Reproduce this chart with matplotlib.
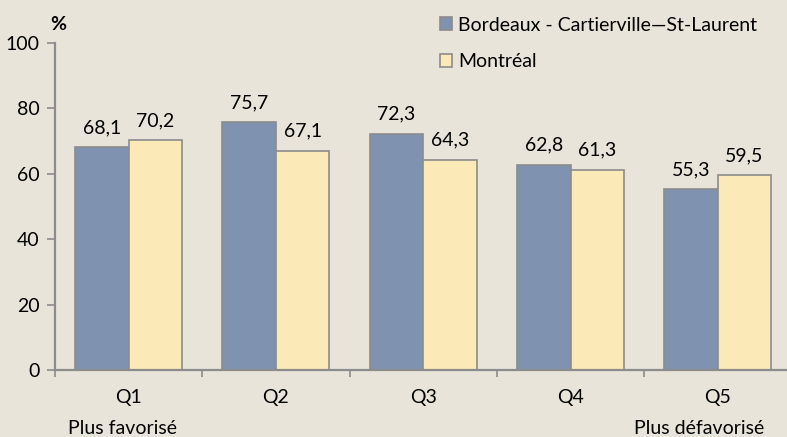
import matplotlib.pyplot as plt
import numpy as np

plt.rcParams['font.family'] = ['Lato', 'DejaVu Sans']

categories = ["Q1", "Q2", "Q3", "Q4", "Q5"]
bordeaux = [68.1, 75.7, 72.3, 62.8, 55.3]
montreal = [70.2, 67.1, 64.3, 61.3, 59.5]
series_names = ["Bordeaux - Cartierville\u2014St-Laurent", "Montr\u00e9al"]

BG = '#e8e4da'
BLUE = '#7f93b0'
YELLOW = '#fbe9b8'
EDGE = '#8c8c8c'
FS = 14

fig = plt.figure(figsize=(7.87, 4.37), dpi=100, facecolor=BG)
# axes extends slightly past the right edge, like the original
ax = fig.add_axes([55 / 787, 67 / 437, 736.5 / 787, 327 / 437], facecolor=BG)

x = np.arange(len(categories))
w = 0.363
b1 = ax.bar(x - w / 2, bordeaux, w, color=BLUE, edgecolor=EDGE, linewidth=1.2, label=series_names[0])
b2 = ax.bar(x + w / 2, montreal, w, color=YELLOW, edgecolor=EDGE, linewidth=1.2, label=series_names[1])

for bars, vals in [(b1, bordeaux), (b2, montreal)]:
    for rect, v in zip(bars, vals):
        ax.annotate(f"{v:.1f}".replace('.', ','),
                    (rect.get_x() + rect.get_width() / 2, v),
                    xytext=(0, 8), textcoords='offset points',
                    ha='center', va='bottom', fontsize=FS)

ax.set_xlim(-0.5, 4.5)
ax.set_ylim(0, 100)
ax.set_yticks([0, 20, 40, 60, 80, 100])
ax.set_xticks(np.arange(-0.5, 5, 1.0))
ax.set_xticklabels([])
ax.set_xticks(x, minor=True)
ax.set_xticklabels(categories, minor=True, fontsize=FS)
ax.tick_params(axis='x', which='minor', length=0, pad=14)
ax.tick_params(axis='x', which='major', length=5, width=1.2, color=EDGE)
ax.tick_params(axis='y', length=6, width=1.2, color=EDGE, labelsize=FS, pad=5)

for s in ['top', 'right']:
    ax.spines[s].set_visible(False)
for s in ['left', 'bottom']:
    ax.spines[s].set_color(EDGE)
    ax.spines[s].set_linewidth(1.6)

ax.text(-0.04, -0.18, "Plus favoris\u00e9", transform=ax.get_xaxis_transform(),
        ha='center', va='center', fontsize=FS)
ax.text(4 - 0.13, -0.18, "Plus d\u00e9favoris\u00e9", transform=ax.get_xaxis_transform(),
        ha='center', va='center', fontsize=FS)

fig.text(58 / 787, 1 - 24 / 437, "%", ha='center', va='center', fontsize=FS, fontweight='bold')

fig.legend(loc='upper left', bbox_to_anchor=(432 / 787, 1 - 9 / 437),
           frameon=False, fontsize=FS, handlelength=0.65, handleheight=0.65,
           handletextpad=0.3, labelspacing=1.0, borderaxespad=0)

plt.savefig('out.png', dpi=100, facecolor=BG)
